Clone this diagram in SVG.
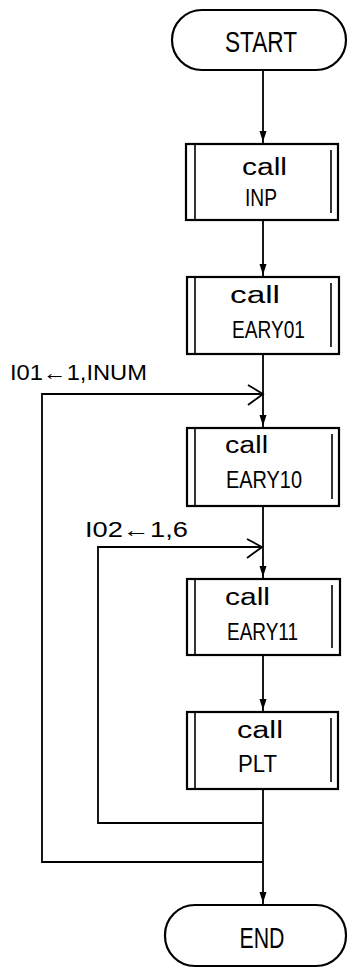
<svg xmlns="http://www.w3.org/2000/svg" width="348" height="968" viewBox="0 0 348 968">
<style>
.box{fill:#fff;stroke:#000;stroke-width:2.2}
.in{stroke:#000;stroke-width:1.6}
.ln{fill:none;stroke:#000;stroke-width:1.8}
.ah{fill:#000}
.t{font-family:"Liberation Sans",Arial,sans-serif;font-size:23px;fill:#000}
.tt{font-family:"Liberation Sans",Arial,sans-serif;font-size:30px;fill:#000;text-anchor:middle}
.lb{font-family:"Liberation Sans",Arial,sans-serif;font-size:22px;fill:#000}
</style>
<rect width="348" height="968" fill="#fff"/>
<g id="connectors">
<path class="ln" d="M263 70V144M263 220V277M263 354V428M263 506V579M263 655V712M263 789V905"/>
<path class="ln" d="M263 862H42V394H263"/>
<path class="ln" d="M263 823H98V547H263"/>
<path class="ln" d="M248 385L263 394L248 405"/>
<path class="ln" d="M247 539L262 547L247 558"/>
<path class="ah" d="M259.5 131L266.5 131L263 142Z"/>
<path class="ah" d="M259.5 264L266.5 264L263 275Z"/>
<path class="ah" d="M259.5 415L266.5 415L263 426Z"/>
<path class="ah" d="M259.5 566L266.5 566L263 577Z"/>
<path class="ah" d="M259.5 699L266.5 699L263 710Z"/>
<path class="ah" d="M259.5 892L266.5 892L263 903Z"/>
<text class="lb" x="10" y="380" textLength="137" lengthAdjust="spacingAndGlyphs">I01←1,INUM</text>
<text class="lb" x="85" y="537" textLength="103" lengthAdjust="spacingAndGlyphs">I02←1,6</text>
</g>
<g id="start">
<rect class="box" x="172" y="10" width="174" height="60" rx="30"/>
<text class="tt" x="261" y="52" textLength="72" lengthAdjust="spacingAndGlyphs">START</text>
</g>
<g id="inp">
<rect class="box" x="186" y="144" width="152" height="76"/>
<line class="in" x1="195" y1="144" x2="195" y2="220"/>
<line class="in" x1="331" y1="150" x2="331" y2="213"/>
<text class="t" x="242" y="175" textLength="45" lengthAdjust="spacingAndGlyphs">call</text>
<text class="t" x="245" y="206" textLength="32" lengthAdjust="spacingAndGlyphs">INP</text>
</g>
<g id="eary01">
<rect class="box" x="187" y="277" width="152" height="77"/>
<line class="in" x1="195" y1="277" x2="195" y2="354"/>
<line class="in" x1="331" y1="283" x2="331" y2="347"/>
<text class="t" x="230" y="303" textLength="50" lengthAdjust="spacingAndGlyphs">call</text>
<text class="t" x="232" y="338" textLength="73" lengthAdjust="spacingAndGlyphs">EARY01</text>
</g>
<g id="eary10">
<rect class="box" x="187" y="428" width="152" height="78"/>
<line class="in" x1="195" y1="428" x2="195" y2="506"/>
<line class="in" x1="332" y1="434" x2="332" y2="499"/>
<text class="t" x="225" y="453" textLength="43" lengthAdjust="spacingAndGlyphs">call</text>
<text class="t" x="226" y="488" textLength="76" lengthAdjust="spacingAndGlyphs">EARY10</text>
</g>
<g id="eary11">
<rect class="box" x="187" y="579" width="153" height="76"/>
<line class="in" x1="195" y1="579" x2="195" y2="655"/>
<line class="in" x1="332" y1="585" x2="332" y2="648"/>
<text class="t" x="225" y="605" textLength="45" lengthAdjust="spacingAndGlyphs">call</text>
<text class="t" x="227" y="640" textLength="71" lengthAdjust="spacingAndGlyphs">EARY11</text>
</g>
<g id="plt">
<rect class="box" x="187" y="712" width="151" height="77"/>
<line class="in" x1="195" y1="712" x2="195" y2="789"/>
<line class="in" x1="331" y1="718" x2="331" y2="782"/>
<text class="t" x="237" y="738" textLength="46" lengthAdjust="spacingAndGlyphs">call</text>
<text class="t" x="238" y="772" textLength="39" lengthAdjust="spacingAndGlyphs">PLT</text>
</g>
<g id="end">
<rect class="box" x="165" y="905" width="181" height="61" rx="30"/>
<text class="tt" x="262" y="948" textLength="45" lengthAdjust="spacingAndGlyphs">END</text>
</g>
</svg>
